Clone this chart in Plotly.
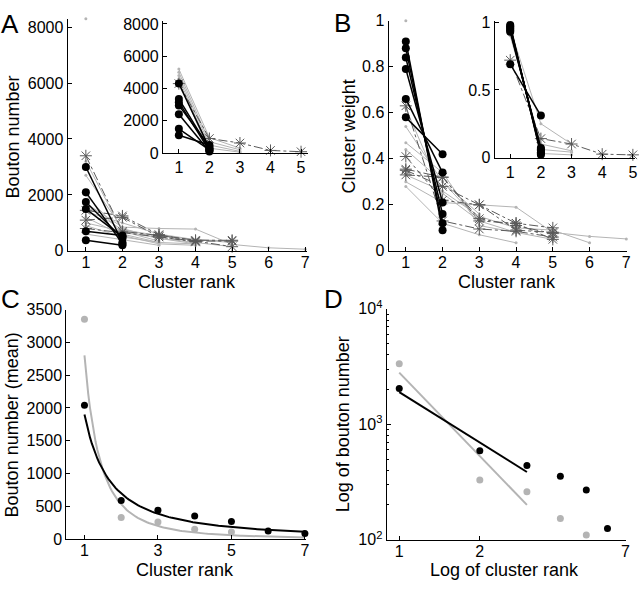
import plotly.graph_objects as go

W, H = 640, 590

# ---------------- data ----------------
ranks = [1, 2, 3, 4, 5, 6, 7]

# Panel A main (bouton number per cluster rank)
a_black = [[3000, 300], [2100, 250], [1750, 450], [1500, 500], [700, 550], [380, 200]]
a_star = [[3400, 700, 550, 380, 380], [1450, 1250, 580, 350, 350],
          [1100, 1200, 500, 320], [800, 650, 500, 350, 150]]
a_gray = [[8300], [3200, 700, 350], [2700, 800, 450, 250], [2000, 600, 300],
          [1700, 850, 800, 780, 230, 110, 60], [1400, 1000, 600, 400, 300],
          [1200, 550, 250, 200], [1000, 700, 450, 300, 150], [900, 500, 300, 250],
          [600, 400, 200], [1600, 750, 550, 400, 350]]

# Panel A inset
ai_black = [[4300, 300], [3350, 250], [3150, 150], [2950, 400], [2400, 100], [1500, 200], [1100, 500]]
ai_star = [[4300, 900, 620, 160, 80]]
ai_gray = [[5200, 950, 300], [5000, 700, 200], [4800, 500, 100], [4600, 300, 50], [4400, 100]]

# Panel B main (cluster weight)
b_black = [[0.91, 0.09], [0.88, 0.12], [0.84, 0.16], [0.79, 0.21], [0.66, 0.34], [0.58, 0.42]]
b_star = [[0.63, 0.13, 0.095, 0.085, 0.06], [0.41, 0.22, 0.20, 0.12, 0.05],
          [0.355, 0.32, 0.14, 0.11, 0.075], [0.35, 0.28, 0.20, 0.09, 0.08],
          [0.33, 0.32, 0.13, 0.12, 0.10]]
b_gray = [[1.0], [0.62, 0.25, 0.13], [0.54, 0.30, 0.16], [0.47, 0.34, 0.11, 0.08],
          [0.30, 0.21, 0.20, 0.19, 0.08, 0.063, 0.052], [0.28, 0.12, 0.07, 0.035],
          [0.44, 0.30, 0.13, 0.08, 0.05], [0.33, 0.26, 0.15, 0.10, 0.09, 0.035]]

# Panel B inset
bi_black = [[0.98, 0.02], [0.97, 0.03], [0.96, 0.04], [0.95, 0.05], [0.94, 0.06], [0.93, 0.07], [0.69, 0.31]]
bi_star = [[0.72, 0.14, 0.10, 0.025, 0.02]]
bi_gray = [[0.95, 0.25, 0.10], [0.92, 0.06, 0.04], [0.96, 0.03, 0.02], [0.90, 0.10, 0.05]]

# Panels C / D (mean bouton number)
c_black = [2040, 590, 440, 355, 270, 125, 85]
c_gray = [3350, 330, 260, 153, 110]
fit_black = (1900, -1.45)   # power-law fit a * x^b
fit_gray = (2800, -2.40)
fit_x_c = [1 + 0.05 * i for i in range(121)]
fit_x_d = [1, 3]

d_minor = [200, 300, 400, 500, 600, 700, 800, 900,
           2000, 3000, 4000, 5000, 6000, 7000, 8000, 9000]

# ---------------- helpers ----------------
def fx(px):
    return px / W

def fy(py):
    return 1 - py / H

BLACK = "#000000"
STAR = "#5a5a5a"
GRAY = "#b4b4b4"
FONT = "Liberation Sans, Arial, sans-serif"

fig = go.Figure()

def add_group(rows, xa, ya, kind):
    for r in rows:
        xs = ranks[:len(r)]
        if kind == "gray":
            fig.add_trace(go.Scatter(x=xs, y=r, mode="lines+markers", xaxis=xa, yaxis=ya,
                                     line=dict(color=GRAY, width=1),
                                     marker=dict(color=GRAY, size=3),
                                     cliponaxis=False, showlegend=False))
        elif kind == "star":
            fig.add_trace(go.Scatter(x=xs, y=r, mode="lines+markers", xaxis=xa, yaxis=ya,
                                     line=dict(color=STAR, width=1, dash="dashdot"),
                                     marker=dict(symbol="asterisk-open", size=10,
                                                 line=dict(color=STAR, width=1)),
                                     cliponaxis=False, showlegend=False))
        else:
            fig.add_trace(go.Scatter(x=xs, y=r, mode="lines+markers", xaxis=xa, yaxis=ya,
                                     line=dict(color=BLACK, width=1.5),
                                     marker=dict(color=BLACK, size=8),
                                     cliponaxis=False, showlegend=False))

for rows, kind in [(a_gray, "gray"), (a_star, "star"), (a_black, "black")]:
    add_group(rows, "x", "y", kind)
for rows, kind in [(ai_gray, "gray"), (ai_star, "star"), (ai_black, "black")]:
    add_group(rows, "x2", "y2", kind)
for rows, kind in [(b_gray, "gray"), (b_star, "star"), (b_black, "black")]:
    add_group(rows, "x3", "y3", kind)
for rows, kind in [(bi_gray, "gray"), (bi_star, "star"), (bi_black, "black")]:
    add_group(rows, "x4", "y4", kind)

# Panel C
fig.add_trace(go.Scatter(x=fit_x_c, y=[fit_gray[0] * x ** fit_gray[1] for x in fit_x_c],
                         mode="lines", xaxis="x5", yaxis="y5",
                         line=dict(color=GRAY, width=2), showlegend=False))
fig.add_trace(go.Scatter(x=fit_x_c, y=[fit_black[0] * x ** fit_black[1] for x in fit_x_c],
                         mode="lines", xaxis="x5", yaxis="y5",
                         line=dict(color=BLACK, width=2), showlegend=False))
fig.add_trace(go.Scatter(x=ranks[:len(c_gray)], y=c_gray, mode="markers", xaxis="x5", yaxis="y5",
                         marker=dict(color=GRAY, size=7), cliponaxis=False, showlegend=False))
fig.add_trace(go.Scatter(x=ranks[:len(c_black)], y=c_black, mode="markers", xaxis="x5", yaxis="y5",
                         marker=dict(color=BLACK, size=7), cliponaxis=False, showlegend=False))

# Panel D
fig.add_trace(go.Scatter(x=fit_x_d, y=[fit_gray[0] * x ** fit_gray[1] for x in fit_x_d],
                         mode="lines", xaxis="x6", yaxis="y6",
                         line=dict(color=GRAY, width=2), showlegend=False))
fig.add_trace(go.Scatter(x=fit_x_d, y=[fit_black[0] * x ** fit_black[1] for x in fit_x_d],
                         mode="lines", xaxis="x6", yaxis="y6",
                         line=dict(color=BLACK, width=2), showlegend=False))
fig.add_trace(go.Scatter(x=ranks[:len(c_gray)], y=c_gray, mode="markers", xaxis="x6", yaxis="y6",
                         marker=dict(color=GRAY, size=7), cliponaxis=False, showlegend=False))
fig.add_trace(go.Scatter(x=ranks[:6], y=c_black[:6], mode="markers", xaxis="x6", yaxis="y6",
                         marker=dict(color=BLACK, size=7), cliponaxis=False, showlegend=False))

def ax(dom_px, rng, anchor, tickvals=None, ticktext=None, vertical=False, typ="linear"):
    d = dict(showline=True, linecolor="black", linewidth=1, ticks="inside", ticklen=4,
             tickcolor="black", showgrid=False, zeroline=False, range=rng, anchor=anchor,
             tickfont=dict(size=16, color="black", family=FONT), type=typ)
    if vertical:
        d["domain"] = [fy(dom_px[1]), fy(dom_px[0])]
    else:
        d["domain"] = [fx(dom_px[0]), fx(dom_px[1])]
    if tickvals is not None:
        d["tickmode"] = "array"
        d["tickvals"] = tickvals
        if ticktext is not None:
            d["ticktext"] = ticktext
    return d

layout = dict(
    width=W, height=H, margin=dict(l=0, r=0, t=0, b=0),
    paper_bgcolor="white", plot_bgcolor="rgba(0,0,0,0)",
    font=dict(family=FONT, color="black"),
    xaxis=ax([68, 309], [0.5, 7.05], "y", ranks),
    yaxis=ax([8, 248.3], [0, 8300], "x", [0, 2000, 4000, 6000, 8000], vertical=True),
    xaxis2=ax([164, 310], [0.48, 5.23], "y2", [1, 2, 3, 4, 5]),
    yaxis2=ax([10, 147], [0, 8200], "x2", [0, 2000, 4000, 6000, 8000], vertical=True),
    xaxis3=ax([391, 631], [0.53, 7.02], "y3", ranks),
    yaxis3=ax([10, 248.3], [0, 1.0], "x3", [0, 0.2, 0.4, 0.6, 0.8, 1],
              ["0", "0.2", "0.4", "0.6", "0.8", "1"], vertical=True),
    xaxis4=ax([497.7, 639], [0.49, 5.07], "y4", [1, 2, 3, 4, 5]),
    yaxis4=ax([10, 151.7], [0, 1.012], "x4", [0, 0.5, 1], ["0", "0.5", "1"], vertical=True),
    xaxis5=ax([66.7, 308.3], [0.505, 7.04], "y5", [1, 3, 5, 7]),
    yaxis5=ax([309, 546.7], [0, 3500], "x5", [0, 500, 1000, 1500, 2000, 2500, 3000, 3500], vertical=True),
    xaxis6=ax([389, 629.5], [-0.0474, 0.8457], "y6", [1, 2, 7], ["1", "2", "7"], typ="log"),
    yaxis6=ax([308.3, 547.3], [2, 4], "x6", [100, 1000, 10000],
              ["10<sup>2</sup>", "10<sup>3</sup>", "10<sup>4</sup>"], vertical=True, typ="log"),
)
layout["yaxis6"]["minor"] = dict(tickmode="array", tickvals=d_minor, ticks="inside",
                                 ticklen=2, tickcolor="black", showgrid=False)
for k in ["xaxis", "xaxis3", "xaxis5", "xaxis6"]:
    layout[k]["ticklabelstandoff"] = -3

ann = []
def text(t, px, py, size=18, angle=0):
    ann.append(dict(text=t, x=fx(px), y=fy(py), xref="paper", yref="paper",
                    showarrow=False, xanchor="center", yanchor="middle", textangle=angle,
                    font=dict(size=size, color="black", family=FONT)))

text("Cluster rank", 188, 281)
text("Bouton number", 13, 130, angle=-90)
text("Cluster rank", 510, 281)
text("Cluster weight", 351, 130, angle=-90)
text("Cluster rank", 186, 579)
text("Bouton number (mean)", 13, 428, angle=-90)
text("Log of cluster rank", 508, 579)
text("Log of bouton number", 346, 428, angle=-90)
text("A", 10, 13, size=26)
text("B", 345, 12, size=26)
text("C", 11, 298, size=26)
text("D", 336, 298, size=26)
layout["annotations"] = ann

fig.update_layout(**layout)
fig.write_html("out.html", config={"displayModeBar": False},
               post_script="document.body.style.margin='0px';document.body.style.overflow='hidden';")
